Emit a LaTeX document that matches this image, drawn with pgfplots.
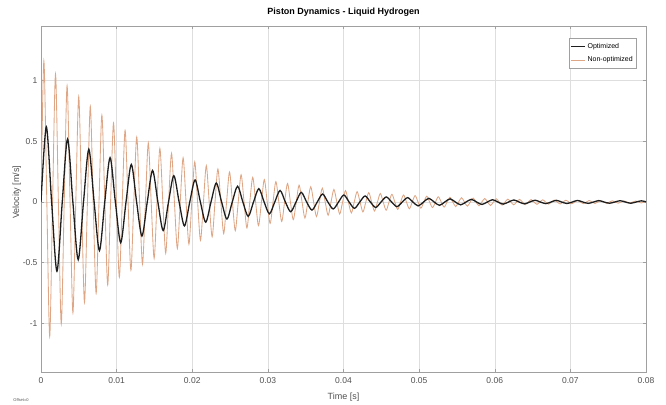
\documentclass[border=0pt]{standalone}
\usepackage{fontspec}
\setmainfont{Liberation Sans}
\usepackage{pgfplots}
\usepackage{pgfplotstable}
\pgfplotsset{compat=1.18}
\definecolor{nonopt}{RGB}{222,166,132}
\definecolor{opt}{RGB}{30,30,30}
\definecolor{gridc}{RGB}{222,222,222}
\definecolor{axc}{RGB}{160,160,160}
\definecolor{tickc}{RGB}{80,80,80}

\pgfplotstableread{
t v
0 0
0.00038 1.1616
0.00077 0
0.00115 -1.1068
0.00153 0
0.00192 1.0546
0.00230 0
0.00268 -1.0049
0.00307 0
0.00345 0.9575
0.00384 0
0.00422 -0.9123
0.00460 0
0.00499 0.8693
0.00537 0
0.00575 -0.8283
0.00614 0
0.00652 0.7892
0.00690 0
0.00729 -0.7520
0.00767 0
0.00805 0.7165
0.00844 0
0.00882 -0.6827
0.00920 0
0.00959 0.6505
0.00997 0
0.01036 -0.6198
0.01074 0
0.01112 0.5906
0.01151 0
0.01189 -0.5627
0.01227 0
0.01266 0.5362
0.01304 0
0.01342 -0.5109
0.01381 0
0.01419 0.4868
0.01457 0
0.01496 -0.4638
0.01534 0
0.01572 0.4419
0.01611 0
0.01649 -0.4211
0.01687 0
0.01726 0.4012
0.01764 0
0.01803 -0.3823
0.01841 0
0.01879 0.3643
0.01918 0
0.01956 -0.3471
0.01994 0
0.02033 0.3307
0.02071 0
0.02109 -0.3151
0.02148 0
0.02186 0.3002
0.02224 0
0.02263 -0.2861
0.02301 0
0.02339 0.2726
0.02378 0
0.02416 -0.2597
0.02454 0
0.02493 0.2475
0.02531 0
0.02569 -0.2358
0.02608 0
0.02646 0.2247
0.02685 0
0.02723 -0.2141
0.02761 0
0.02800 0.2040
0.02838 0
0.02876 -0.1944
0.02915 0
0.02953 0.1852
0.02991 0
0.03030 -0.1765
0.03068 0
0.03106 0.1681
0.03145 0
0.03183 -0.1602
0.03221 0
0.03260 0.1527
0.03298 0
0.03336 -0.1455
0.03375 0
0.03413 0.1386
0.03452 0
0.03490 -0.1321
0.03528 0
0.03567 0.1258
0.03605 0
0.03643 -0.1199
0.03682 0
0.03720 0.1142
0.03758 0
0.03797 -0.1089
0.03835 0
0.03873 0.1037
0.03912 0
0.03950 -0.0988
0.03988 0
0.04027 0.0942
0.04065 0
0.04104 -0.0897
0.04142 0
0.04180 0.0855
0.04219 0
0.04257 -0.0815
0.04295 0
0.04334 0.0776
0.04372 0
0.04410 -0.0740
0.04449 0
0.04487 0.0705
0.04525 0
0.04564 -0.0672
0.04602 0
0.04640 0.0640
0.04679 0
0.04717 -0.0610
0.04755 0
0.04794 0.0581
0.04832 0
0.04871 -0.0554
0.04909 0
0.04947 0.0528
0.04986 0
0.05024 -0.0503
0.05062 0
0.05101 0.0479
0.05139 0
0.05177 -0.0456
0.05216 0
0.05254 0.0435
0.05292 0
0.05331 -0.0414
0.05369 0
0.05407 0.0395
0.05446 0
0.05484 -0.0376
0.05522 0
0.05561 0.0358
0.05599 0
0.05638 -0.0341
0.05676 0
0.05714 0.0325
0.05753 0
0.05791 -0.0310
0.05829 0
0.05868 0.0295
0.05906 0
0.05944 -0.0281
0.05983 0
0.06021 0.0268
0.06059 0
0.06098 -0.0255
0.06136 0
0.06174 0.0243
0.06213 0
0.06251 -0.0232
0.06289 0
0.06328 0.0221
0.06366 0
0.06405 -0.0211
0.06443 0
0.06481 0.0201
0.06520 0
0.06558 -0.0191
0.06596 0
0.06635 0.0182
0.06673 0
0.06711 -0.0174
0.06750 0
0.06788 0.0165
0.06826 0
0.06865 -0.0158
0.06903 0
0.06941 0.0150
0.06980 0
0.07018 -0.0143
0.07056 0
0.07095 0.0136
0.07133 0
0.07172 -0.0130
0.07210 0
0.07248 0.0124
0.07287 0
0.07325 -0.0118
0.07363 0
0.07402 0.0112
0.07440 0
0.07478 -0.0107
0.07517 0
0.07555 0.0102
0.07593 0
0.07632 -0.0097
0.07670 0
0.07708 0.0093
0.07747 0
0.07785 -0.0088
0.07823 0
0.07862 0.0084
0.07900 0
0.07939 -0.0080
0.07977 0
0.08000 0.0050
}\nonopttable

\pgfplotstableread{
t v
0 0
0.000703 0.62
0.001405 0
0.002108 -0.57
0.00281 0
0.003513 0.52
0.004215 0
0.004918 -0.475
0.00562 0
0.006323 0.435
0.007025 0
0.007728 -0.40
0.00843 0
0.009133 0.365
0.009835 0
0.010538 -0.335
0.01124 0
0.011943 0.31
0.012645 0
0.013348 -0.28
0.01405 0
0.014753 0.26
0.015455 0
0.016158 -0.235
0.01686 0
0.017563 0.217
0.018265 0
0.018968 -0.197
0.01967 0
0.020373 0.182
0.021075 0
0.021778 -0.166
0.02248 0
0.023183 0.156
0.023885 0
0.024588 -0.14
0.02529 0
0.025993 0.13
0.026695 0
0.027398 -0.118
0.0281 0
0.028803 0.11
0.029505 0
0.030208 -0.097
0.03091 0
0.031613 0.095
0.032315 0
0.033018 -0.08
0.03372 0
0.034423 0.08
0.035125 0
0.035828 -0.066
0.03653 0
0.037233 0.066
0.037935 0
0.038638 -0.057
0.03934 0
0.040043 0.058
0.040745 0
0.041448 -0.052
0.04215 0
0.042853 0.05
0.043555 0
0.044258 -0.045
0.04496 0
0.045663 0.042
0.046365 0
0.047068 -0.038
0.04777 0
0.048473 0.036
0.049175 0
0.049878 -0.032
0.05058 0
0.051283 0.031
0.051985 0
0.052688 -0.027
0.05339 0
0.054093 0.026
0.054795 0
0.055498 -0.023
0.0562 0
0.056903 0.022
0.057605 0
0.058308 -0.02
0.05901 0
0.059713 0.019
0.060415 0
0.061118 -0.017
0.06182 0
0.062523 0.017
0.063225 0
0.063928 -0.015
0.06463 0
0.065333 0.015
0.066035 0
0.066738 -0.013
0.06744 0
0.068143 0.014
0.068845 0
0.069548 -0.012
0.07025 0
0.070953 0.013
0.071655 0
0.072358 -0.011
0.07306 0
0.073763 0.012
0.074465 0
0.075168 -0.010
0.07587 0
0.076573 0.011
0.077275 0
0.077978 -0.010
0.07868 0
0.079383 0.010
0.08 0.002
}\opttable

\begin{document}
\begin{tikzpicture}
\useasboundingbox (0,0) rectangle (666pt,404pt);
\begin{axis}[
  at={(41pt,32pt)}, anchor=south west,
  scale only axis, width=605pt, height=346pt,
  xmin=0, xmax=0.08, ymin=-1.4, ymax=1.45,
  scaled x ticks=false, scaled y ticks=false,
  xtick={0,0.01,0.02,0.03,0.04,0.05,0.06,0.07,0.08},
  xticklabels={0,0.01,0.02,0.03,0.04,0.05,0.06,0.07,0.08},
  ytick={-1,-0.5,0,0.5,1},
  yticklabels={-1,-0.5,0,0.5,1},
  grid=major, major grid style={gridc, line width=0.5pt},
  axis line style={axc, line width=0.5pt},
  tick align=inside, major tick length=3pt, tick style={axc, line width=0.5pt},
  ticklabel style={font=\fontsize{8.5}{10}\selectfont, text=tickc},
  xticklabel style={yshift=-2pt},
  xlabel={Time [s]},
  xlabel style={at={(axis description cs:0.5,-0.072)}, anchor=center, font=\fontsize{9}{10}\selectfont, text=tickc},
  ylabel={Velocity [m/s]},
  ylabel style={at={(axis description cs:-0.04,0.52)}, anchor=center, font=\fontsize{9}{10}\selectfont, text=tickc},
  title={Piston Dynamics - Liquid Hydrogen},
  title style={at={(axis description cs:0.5,1.023)}, anchor=center, font=\fontsize{9}{10}\selectfont\bfseries},
  reverse legend,
  legend cell align=left,
  legend image code/.code={\draw[#1] (0pt,0pt) -- (14pt,0pt);},
  legend style={at={(axis description cs:1,1)}, anchor=north east, xshift=-10pt, yshift=-12pt,
    font=\fontsize{7}{8}\selectfont, draw=axc, line width=0.5pt, inner xsep=1pt, inner ysep=3pt, row sep=3pt},
]
\addplot[nonopt, line width=0.85pt, smooth] table[x=t, y=v] {\nonopttable};
\addlegendentry{Non-optimized}
\addplot[opt, line width=1.3pt, smooth] table[x=t, y=v] {\opttable};
\addlegendentry{Optimized}
\end{axis}
\node[font=\fontsize{4}{4}\selectfont, text=tickc] at (21pt,4pt) {Offset=0};
\end{tikzpicture}
\end{document}
